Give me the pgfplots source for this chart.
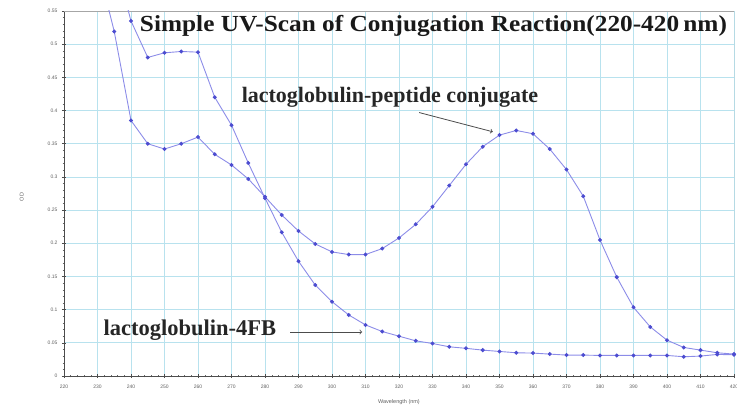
\documentclass[border=0pt]{standalone}
\usepackage{pgfplots}
\pgfplotsset{compat=1.18}
\usepackage{fontspec}
\setmainfont{Liberation Serif}
\newfontfamily\sansf{Liberation Sans}
\definecolor{gridc}{HTML}{B8E2EE}
\definecolor{linec}{HTML}{8C8CE8}
\definecolor{markc}{HTML}{4C4CD0}
\definecolor{tickc}{HTML}{606060}
\pgfplotstableread{
x y
235 0.63
240 0.535
245 0.48
250 0.487
255 0.489
260 0.488
265 0.42
270 0.378
275 0.321
280 0.268
285 0.2165
290 0.173
295 0.137
300 0.112
305 0.092
310 0.077
315 0.067
320 0.060
325 0.053
330 0.049
335 0.044
340 0.0417
345 0.039
350 0.037
355 0.035
360 0.0345
365 0.033
370 0.0315
375 0.0315
380 0.031
385 0.031
390 0.031
395 0.031
400 0.031
405 0.029
410 0.030
415 0.0325
420 0.032
}\fourfb
\pgfplotstableread{
x y
230 0.62
235 0.519
240 0.385
245 0.35
250 0.342
255 0.35
260 0.36
265 0.334
270 0.318
275 0.297
280 0.27
285 0.2426
290 0.2185
295 0.199
300 0.187
305 0.183
310 0.183
315 0.192
320 0.208
325 0.2285
330 0.255
335 0.287
340 0.319
345 0.3456
350 0.363
355 0.37
360 0.365
365 0.342
370 0.311
375 0.271
380 0.205
385 0.149
390 0.1035
395 0.074
400 0.054
405 0.043
410 0.039
415 0.035
420 0.033
}\conj
\begin{document}
\begin{tikzpicture}
\path[use as bounding box] (-64pt,-31pt) rectangle (673pt,376pt);
\begin{axis}[
  at={(0,0)}, anchor=south west,
  scale only axis, width=670pt, height=365pt,
  xmin=220, xmax=420, ymin=0, ymax=0.55,
  xtick distance=10, ytick distance=0.05,
  minor x tick num=4, minor y tick num=4,
  grid=major, major grid style={gridc, line width=0.7pt},
  tick align=center,
  major tick length=4pt, minor tick length=2.5pt,
  tick style={black!70, line width=0.5pt},
  minor tick style={black!60, line width=0.4pt},
  axis x line*=bottom, axis y line*=left,
  axis line style={black!70, line width=0.6pt},
  ticklabel style={font=\sansf\fontsize{5}{6}\selectfont, text=tickc},
  /pgf/number format/assume math mode=true,
  yticklabel style={/pgf/number format/fixed, /pgf/number format/precision=2, xshift=-1pt},
  xticklabel style={/pgf/number format/fixed, yshift=-3pt},
  xlabel={Wavelength (nm)}, ylabel={OD},
  label style={font=\sansf\fontsize{5.5}{6}\selectfont, text=tickc},
  xlabel style={at={(axis description cs:0.5,0)}, anchor=center, yshift=-26pt},
  ylabel style={at={(axis description cs:-0.063,0.49)}, anchor=center},
  clip=true,
]
\draw[black!35, line width=0.8pt] (axis cs:220,0.55) -- (axis cs:420,0.55) -- (axis cs:420,0);
\addplot[linec, line width=0.9pt, mark=*, mark size=1.5pt, mark options={fill=markc, draw=markc}] table[x=x,y=y] {\fourfb};
\addplot[linec, line width=0.9pt, mark=*, mark size=1.5pt, mark options={fill=markc, draw=markc}] table[x=x,y=y] {\conj};
\node[font=\bfseries\fontsize{23}{25}\selectfont, text=black!90] at (axis cs:330.3,0.527) {\scalebox{1.1}[1]{Simple UV-Scan of Conjugation Reaction(220-420\,nm)}};
\node[font=\bfseries\fontsize{22}{24}\selectfont, text=black!85] at (axis cs:317.3,0.420) {lactoglobulin-peptide conjugate};
\node[font=\bfseries\fontsize{22.5}{24}\selectfont, text=black!85] at (axis cs:257.6,0.069) {lactoglobulin-4FB};
\draw[->, black!70, line width=0.8pt] (axis cs:326,0.397) -- (axis cs:348,0.368);
\draw[->, black!70, line width=0.8pt] (axis cs:287.5,0.0663) -- (axis cs:309,0.0663);
\end{axis}
\end{tikzpicture}
\end{document}
